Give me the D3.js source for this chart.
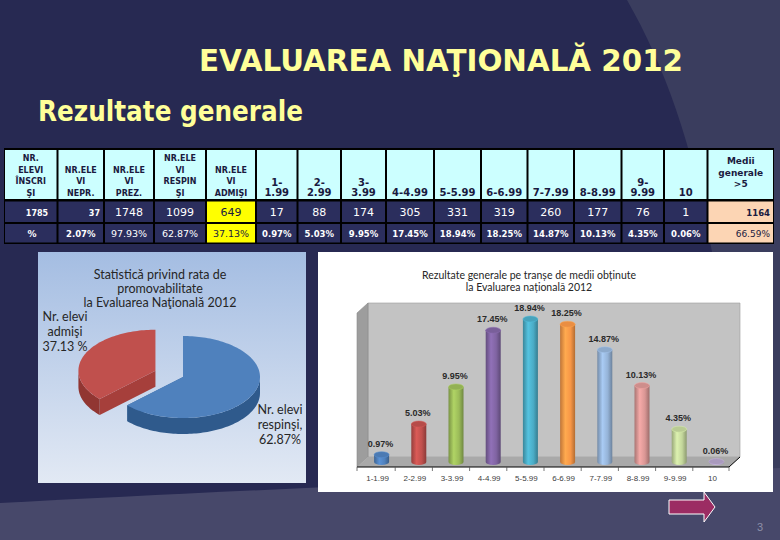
<!DOCTYPE html>
<html><head><meta charset="utf-8">
<script src="https://cdn.jsdelivr.net/npm/d3@7"></script>
<style>body{margin:0;background:#272952}svg{display:block}</style>
</head><body>
<script>
// ---------- DATA ----------
const categories = ["1-1.99","2-2.99","3-3.99","4-4.99","5-5.99","6-6.99","7-7.99","8-8.99","9-9.99","10"];
const headerLabels = [["1-","1.99"],["2-","2.99"],["3-","3.99"],["4-4.99"],["5-5.99"],["6-6.99"],["7-7.99"],["8-8.99"],["9-","9.99"],["10"]];
const counts = [17,88,174,305,331,319,260,177,76,1];
const percents = [0.97,5.03,9.95,17.45,18.94,18.25,14.87,10.13,4.35,0.06];
const summaryHeaders = [["NR.","ELEVI","ÎNSCRI","ŞI"],["NR.ELE","VI","NEPR."],["NR.ELE","VI","PREZ."],["NR.ELE","VI","RESPIN","ŞI"],["NR.ELE","VI","ADMIŞI"]];
const summaryCounts = ["1785","37","1748","1099","649"];
const summaryPercents = ["%","2.07%","97.93%","62.87%","37.13%"];
const over5Header = ["Medii","generale",">5"];
const over5Count = "1164";
const over5Percent = "66.59%";
const pieLabels = [["Nr. elevi","respinşi,","62.87%"],["Nr. elevi","admişi","37.13 %"]];
const pieValues = [62.87, 37.13];
const pieTitle = ["Statistică privind rata de","promovabilitate","la Evaluarea Naţională 2012"];
const barTitle = ["Rezultate generale pe tranșe de medii obținute","la Evaluarea națională 2012"];

// ---------- STYLE ----------
const barColors = ["#4f81bd","#c0504d","#9bbb59","#8064a2","#4bacc6","#f79646","#95b3d7","#d99694","#c3d69b","#b2a2c7"];

const W=780,H=540;
const svg=d3.select("body").append("svg").attr("width",W).attr("height",H);
const defs=svg.append("defs");

// background
svg.append("rect").attr("width",W).attr("height",H).attr("fill","#272952");
svg.append("path").attr("d","M627,0 C690,110 728,260 742,540 L780,540 L780,0 Z").attr("fill","#3a3d5e");
svg.append("path").attr("d","M0,503 Q320,486 780,468 L780,540 L0,540 Z").attr("fill","#47486a");

// titles
svg.append("text").attr("x",199).attr("y",71).attr("textLength",484).attr("lengthAdjust","spacingAndGlyphs")
  .attr("font-family","DejaVu Sans").attr("font-weight","bold").attr("font-size",30).attr("fill","#ffff99")
  .text("EVALUAREA NAŢIONALĂ 2012");
svg.append("text").attr("x",38).attr("y",121).attr("textLength",265).attr("lengthAdjust","spacingAndGlyphs")
  .attr("font-family","DejaVu Sans").attr("font-weight","bold").attr("font-size",28).attr("fill","#ffff99")
  .text("Rezultate generale");

// ---------- TABLE ----------
const colEdges=[4,57.5,104,154,206,256,297.5,341,386,434,481,527.5,574,621.5,664,707.5,774];
const tbl=svg.append("g");
tbl.append("rect").attr("x",colEdges[0]).attr("y",148).attr("width",colEdges[16]-colEdges[0]).attr("height",96).attr("fill","#000");
const columns=[];
summaryHeaders.forEach((h,i)=>columns.push({head:h,hfs:8,c:summaryCounts[i],p:summaryPercents[i],type:"sum",i}));
headerLabels.forEach((h,i)=>columns.push({head:h,hfs:10,c:String(counts[i]),p:d3.format(".2f")(percents[i])+"%",type:"cat",i}));
columns.push({head:over5Header,hfs:9,c:over5Count,p:over5Percent,type:"over",i:0});
const rowsY=[[150,49],[201.5,20.5],[224,18.5]];
columns.forEach((col,k)=>{
  const x0=colEdges[k]+1, x1=colEdges[k+1]-1, cx=(x0+x1)/2;
  tbl.append("rect").attr("x",x0).attr("y",rowsY[0][0]).attr("width",x1-x0).attr("height",rowsY[0][1]).attr("fill","#ccffff");
  let fill="#2b2e5d", tc="#ffffff";
  if(col.type==="sum"&&col.i===4){fill="#ffff00";tc="#1a1a40";}
  if(col.type==="over"){fill="#fcd5b4";tc="#1a1a40";}
  [1,2].forEach(r=>tbl.append("rect").attr("x",x0).attr("y",rowsY[r][0]).attr("width",x1-x0).attr("height",rowsY[r][1]).attr("fill",fill));
  // header text
  const n=col.head.length;
  const sp = col.hfs===8?11.7:(col.hfs===10?10.5:11.5);
  const lastB = col.type==="over"?187:196;
  col.head.forEach((t,j)=>{
    tbl.append("text").attr("x",cx).attr("y",lastB-(n-1-j)*sp).attr("text-anchor","middle")
      .attr("font-family","DejaVu Sans").attr("font-weight","bold").attr("font-size",col.hfs).attr("fill","#1a1a40").text(t);
  });
  // row 1
  let t1=tbl.append("text").attr("y",216).attr("font-family","DejaVu Sans").attr("fill",tc).text(col.c);
  if(col.type==="sum"&&col.i<2){t1.attr("font-size",8).attr("font-weight","bold");
    if(col.i===0) t1.attr("x",37).attr("text-anchor","middle"); else t1.attr("x",x1-3).attr("text-anchor","end");}
  else if(col.type==="over"){t1.attr("font-size",8.5).attr("font-weight","bold").attr("x",x1-3).attr("text-anchor","end");}
  else {t1.attr("font-size",11).attr("x",cx).attr("text-anchor","middle");}
  // row 2
  let t2=tbl.append("text").attr("y",237).attr("font-family","DejaVu Sans").attr("fill",tc).text(col.p);
  if(col.type==="over"){t2.attr("font-size",9).attr("x",x1-3).attr("text-anchor","end");}
  else if(col.type==="sum"&&col.i>=2){t2.attr("font-size",9.5).attr("x",cx).attr("text-anchor","middle");}
  else if(col.type==="sum"&&col.i===0){t2.attr("font-size",9).attr("font-weight","bold").attr("x",32).attr("text-anchor","middle");}
  else {t2.attr("font-size",8.5).attr("font-weight","bold").attr("x",cx).attr("text-anchor","middle");}
});

// ---------- PIE PANEL ----------
const pg=defs.append("linearGradient").attr("id","pieBg").attr("x1",0).attr("y1",0).attr("x2",0).attr("y2",1);
pg.append("stop").attr("offset",0).attr("stop-color","#a4bde2");
pg.append("stop").attr("offset",1).attr("stop-color","#e2e9f4");
svg.append("rect").attr("x",38).attr("y",252).attr("width",268).attr("height",231).attr("fill","url(#pieBg)");
pieTitle.forEach((t,j)=>svg.append("text").attr("x",160).attr("y",279+j*14).attr("text-anchor","middle")
  .attr("font-family","Lato").attr("font-size",12.5).attr("fill","#262626").text(t));

const pie=d3.pie().sort(null).value(d=>d)(pieValues);
const pcx=183,pcy=377,prx=77,pry=41,pdep=16;
const pieTop=["#4f81bd","#c0504d"], pieSide=["#2f5a8c","#913632"], pieFace=["#3a6aa3","#a63f3b"];
function ept(a,dx,dy,h){return [pcx+dx+prx*Math.sin(a), pcy+dy-pry*Math.cos(a)+h];}
function arcPts(a0,a1,dx,dy,h){const n=Math.max(2,Math.ceil(Math.abs(a1-a0)/0.03));return d3.range(n+1).map(k=>ept(a0+(a1-a0)*k/n,dx,dy,h));}
const line=d3.line();
const pieG=svg.append("g");
[1,0].forEach(i=>{
  const a=pie[i];
  let dx=0,dy=0;
  if(i===1){const m=(a.startAngle+a.endAngle)/2;dx=30*Math.sin(m);dy=-30*Math.cos(m)*pry/prx;}
  const c=[pcx+dx,pcy+dy];
  [a.startAngle,a.endAngle].forEach(an=>{
    const p=ept(an,dx,dy,0);
    pieG.append("path").attr("d",line([c,p,[p[0],p[1]+pdep],[c[0],c[1]+pdep]])+"Z").attr("fill",pieFace[i]);
  });
  const s0=Math.max(a.startAngle,Math.PI/2), s1=Math.min(a.endAngle,3*Math.PI/2);
  if(s1>s0){
    const top=arcPts(s0,s1,dx,dy,0), bot=arcPts(s1,s0,dx,dy,pdep);
    pieG.append("path").attr("d",line(top.concat(bot))+"Z").attr("fill",pieSide[i]);
  }
  pieG.append("path").attr("d",line([c].concat(arcPts(a.startAngle,a.endAngle,dx,dy,0)))+"Z").attr("fill",pieTop[i]);
});
const pieLabPos=[[280,414],[65,321]];
pieLabels.forEach((lab,i)=>lab.forEach((t,j)=>svg.append("text").attr("x",pieLabPos[i][0]).attr("y",pieLabPos[i][1]+j*15)
  .attr("text-anchor","middle").attr("font-family","Lato").attr("font-size",12.5).attr("fill","#262626").text(t)));

// ---------- BAR PANEL ----------
svg.append("rect").attr("x",318).attr("y",252).attr("width",455).attr("height",240).attr("fill","#ffffff");
barTitle.forEach((t,j)=>svg.append("text").attr("x",529).attr("y",279+j*11.5).attr("text-anchor","middle")
  .attr("font-family","Lato").attr("font-size",10.5).attr("fill","#262626").text(t));
const bg=svg.append("g");
bg.append("path").attr("d","M368,303 L740,303 L740,457 L368,457 Z").attr("fill","#c3c3c3").attr("stroke","#9a9a9a").attr("stroke-width",0.6);
bg.append("path").attr("d","M357,313 L368,303 L368,457 L357,467 Z").attr("fill","#9d9d9d").attr("stroke","#8a8a8a").attr("stroke-width",0.6);
bg.append("path").attr("d","M357,467 L368,457 L740,457 L729,467 Z").attr("fill","#a9a9a9");

const x=d3.scaleBand().domain(categories).range([363,735]);
const y=d3.scaleLinear().domain([0,20]).range([462,311]);
// axis (front edge of floor)
const axisG=svg.append("g").attr("transform","translate(-5,467)");
axisG.call(d3.axisBottom(x).tickSize(0).tickPadding(8)).call(g=>g.select(".domain").remove());
axisG.selectAll("text").attr("font-family","Liberation Sans").attr("font-size",8).attr("fill","#404040").attr("dx",1);
svg.append("path").attr("d","M357,467 L729,467 L740,457").attr("fill","none").attr("stroke","#000").attr("stroke-width",1);
categories.forEach((c,i)=>{ if(i>0){const tx=x(c)-5; svg.append("line").attr("x1",tx).attr("x2",tx).attr("y1",467).attr("y2",471).attr("stroke","#555").attr("stroke-width",0.8);} });
[357,729].forEach(tx=>svg.append("line").attr("x1",tx).attr("x2",tx).attr("y1",467).attr("y2",471).attr("stroke","#555").attr("stroke-width",0.8));

const bw=15, ery=3;
percents.forEach((v,i)=>{
  const col=d3.color(barColors[i]);
  const gid="cyl"+i;
  const gr=defs.append("linearGradient").attr("id",gid).attr("x1",0).attr("x2",1).attr("y1",0).attr("y2",0);
  gr.append("stop").attr("offset",0).attr("stop-color",col.darker(0.7));
  gr.append("stop").attr("offset",0.35).attr("stop-color",col.brighter(0.35));
  gr.append("stop").attr("offset",0.7).attr("stop-color",col);
  gr.append("stop").attr("offset",1).attr("stop-color",col.darker(0.9));
  const cx=x(categories[i])+x.bandwidth()/2, yt=y(v), yb=y(0);
  const L=cx-bw/2,R=cx+bw/2;
  bg.append("path").attr("d",`M${L},${yt} L${L},${yb} A${bw/2},${ery} 0 0 0 ${R},${yb} L${R},${yt} Z`).attr("fill",`url(#${gid})`);
  bg.append("ellipse").attr("cx",cx).attr("cy",yt).attr("rx",bw/2).attr("ry",ery).attr("fill",col.darker(0.15)).attr("stroke",col.brighter(0.3)).attr("stroke-width",0.5);
  bg.append("text").attr("x",cx-1).attr("y",yt-8).attr("text-anchor","middle").attr("font-family","Liberation Sans")
    .attr("font-weight","bold").attr("font-size",9).attr("fill","#2a2a2a").text(d3.format(".2f")(v)+"%");
});

// arrow & page number
svg.append("path").attr("d","M669,500 L704,500 L704,492 L715,507 L704,522 L704,514 L669,514 Z")
  .attr("fill","#9c2c63").attr("stroke","#ffffff").attr("stroke-width",1);
svg.append("text").attr("x",757).attr("y",531).attr("font-family","Liberation Sans").attr("font-size",11).attr("fill","#8d8fa8").text("3");
</script>
</body></html>
